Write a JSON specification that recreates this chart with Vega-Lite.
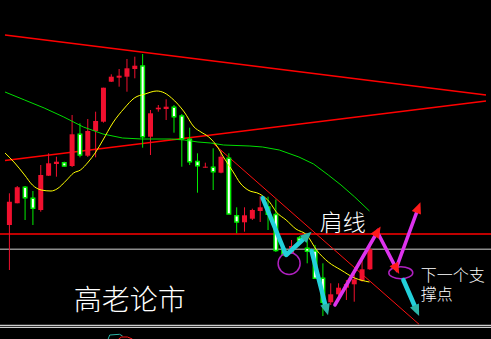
{
  "$schema": "https://vega.github.io/schema/vega-lite/v6.json",
  "width": 491,
  "height": 339,
  "autosize": {"type": "none"},
  "padding": 0,
  "background": "#000000",
  "config": {
    "view": {"stroke": null},
    "axis": {"disable": true},
    "legend": {"disable": true}
  },
  "datasets": {
    "candles": [
      {"t": 0, "o": 114, "c": 137.3, "h": 145.7, "l": 69},
      {"t": 1, "o": 135.7, "c": 151.7, "h": 153, "l": 135.7},
      {"t": 2, "o": 151.7, "c": 141.3, "h": 153, "l": 119},
      {"t": 3, "o": 140.7, "c": 130.7, "h": 148, "l": 114},
      {"t": 4, "o": 129, "c": 164, "h": 174, "l": 127.3},
      {"t": 5, "o": 163.3, "c": 175.7, "h": 185.7, "l": 163},
      {"t": 6, "o": 175, "c": 177.3, "h": 182.3, "l": 162.3},
      {"t": 7, "o": 176.3, "c": 173, "h": 177.3, "l": 172.3},
      {"t": 8, "o": 173, "c": 204.7, "h": 224, "l": 172},
      {"t": 9, "o": 204.7, "c": 184, "h": 215.7, "l": 181.7},
      {"t": 10, "o": 183.3, "c": 208, "h": 220, "l": 182},
      {"t": 11, "o": 208, "c": 218, "h": 227.3, "l": 181.7},
      {"t": 12, "o": 217.3, "c": 251.3, "h": 251.3, "l": 216.3},
      {"t": 13, "o": 257.3, "c": 262.3, "h": 264.7, "l": 257},
      {"t": 14, "o": 261.3, "c": 263.3, "h": 270, "l": 252.3},
      {"t": 15, "o": 262.3, "c": 270.7, "h": 280, "l": 247.3},
      {"t": 16, "o": 270, "c": 273.3, "h": 282.3, "l": 260.7},
      {"t": 17, "o": 273, "c": 202.3, "h": 285, "l": 191.3},
      {"t": 18, "o": 202.3, "c": 225.7, "h": 229, "l": 184},
      {"t": 19, "o": 229.7, "c": 231.3, "h": 234, "l": 227.3},
      {"t": 20, "o": 230, "c": 232.3, "h": 239.7, "l": 219},
      {"t": 21, "o": 231.7, "c": 222.3, "h": 234, "l": 206.3},
      {"t": 22, "o": 223, "c": 200.3, "h": 225, "l": 172.3},
      {"t": 23, "o": 199.7, "c": 177.3, "h": 211.3, "l": 174},
      {"t": 24, "o": 177.5, "c": 173.3, "h": 185.7, "l": 146.3},
      {"t": 25, "o": 171.3, "c": 172.3, "h": 176.3, "l": 171.3},
      {"t": 26, "o": 171.7, "c": 167.3, "h": 190.7, "l": 149},
      {"t": 27, "o": 166.3, "c": 182.3, "h": 189, "l": 165.7},
      {"t": 28, "o": 180.7, "c": 125, "h": 185.7, "l": 125},
      {"t": 29, "o": 123.3, "c": 117, "h": 131.7, "l": 105.7},
      {"t": 30, "o": 116.7, "c": 123.7, "h": 131.7, "l": 107.3},
      {"t": 31, "o": 120.3, "c": 129, "h": 130.3, "l": 119},
      {"t": 32, "o": 128, "c": 131.7, "h": 143, "l": 117},
      {"t": 33, "o": 132, "c": 124.7, "h": 142.3, "l": 109},
      {"t": 34, "o": 124.5, "c": 88.5, "h": 139.5, "l": 87},
      {"t": 35, "o": 89, "c": 84.5, "h": 93, "l": 83},
      {"t": 36, "o": 86, "c": 93, "h": 99, "l": 85},
      {"t": 37, "o": 101, "c": 98, "h": 103, "l": 95},
      {"t": 38, "o": 90.7, "c": 87.7, "h": 102.3, "l": 75.7},
      {"t": 39, "o": 88, "c": 60.7, "h": 94, "l": 60},
      {"t": 40, "o": 60.7, "c": 36.7, "h": 75.7, "l": 23},
      {"t": 41, "o": 36.7, "c": 44.7, "h": 55.7, "l": 34},
      {"t": 42, "o": 44.7, "c": 51.3, "h": 55.7, "l": 37.3},
      {"t": 43, "o": 51.3, "c": 55, "h": 59, "l": 39},
      {"t": 44, "o": 54.7, "c": 59.7, "h": 64.7, "l": 37.3},
      {"t": 45, "o": 58.3, "c": 69.7, "h": 82.3, "l": 57.3},
      {"t": 46, "o": 69.7, "c": 89.7, "h": 94, "l": 69}
    ],
    "maFast": [
      {"t": -0.56, "p": 186}, {"t": 0.69, "p": 176}, {"t": 1.94, "p": 164},
      {"t": 2.94, "p": 154}, {"t": 4.06, "p": 149}, {"t": 5.31, "p": 148},
      {"t": 6.06, "p": 150}, {"t": 7.31, "p": 159}, {"t": 8.19, "p": 166},
      {"t": 9.06, "p": 169}, {"t": 10.06, "p": 177}, {"t": 10.94, "p": 186},
      {"t": 11.94, "p": 199}, {"t": 13.19, "p": 216}, {"t": 14.69, "p": 231},
      {"t": 15.94, "p": 241}, {"t": 17.31, "p": 245}, {"t": 18.81, "p": 248},
      {"t": 19.81, "p": 246}, {"t": 20.69, "p": 241}, {"t": 22.31, "p": 227},
      {"t": 23.56, "p": 212}, {"t": 24.44, "p": 207}, {"t": 25.44, "p": 202},
      {"t": 26.56, "p": 192}, {"t": 27.31, "p": 182}, {"t": 28.56, "p": 167},
      {"t": 29.44, "p": 156}, {"t": 30.44, "p": 149}, {"t": 31.94, "p": 145},
      {"t": 33.19, "p": 137}, {"t": 34.06, "p": 127}, {"t": 35.31, "p": 119},
      {"t": 36.56, "p": 110}, {"t": 37.94, "p": 104}, {"t": 39.19, "p": 89},
      {"t": 40.69, "p": 77}, {"t": 42.31, "p": 69}, {"t": 44.06, "p": 61},
      {"t": 45.94, "p": 57}
    ],
    "maSlow": [
      {"t": -0.56, "p": 247}, {"t": 1.94, "p": 239}, {"t": 4.44, "p": 231},
      {"t": 6.94, "p": 222}, {"t": 9.44, "p": 212}, {"t": 11.94, "p": 205},
      {"t": 14.44, "p": 201}, {"t": 16.94, "p": 200}, {"t": 20.69, "p": 200},
      {"t": 22.31, "p": 199}, {"t": 24.06, "p": 197}, {"t": 25.69, "p": 196},
      {"t": 27.31, "p": 194}, {"t": 30.69, "p": 193}, {"t": 32.31, "p": 192},
      {"t": 34.44, "p": 189}, {"t": 36.94, "p": 182}, {"t": 38.81, "p": 175},
      {"t": 40.69, "p": 164}, {"t": 42.31, "p": 154}, {"t": 44.06, "p": 142},
      {"t": 45.94, "p": 128}
    ],
    "trendLines": [
      {"name": "upper", "t0": -0.5625, "p0": 304, "t1": 60.8125, "p1": 244},
      {"name": "lower", "t0": -0.5625, "p0": 178.5, "t1": 60.8125, "p1": 238},
      {"name": "channel", "t0": 25.94, "p0": 196, "t1": 52.27, "p1": 14.7}
    ],
    "levels": [
      {"name": "neckline", "p": 105},
      {"name": "support", "p": 89.7},
      {"name": "frame1", "p": 13.7},
      {"name": "frame2", "p": 11.7}
    ],
    "arrows": [
      {"id": "c1", "kind": "cyan", "k": 0, "t": 32.31, "p": 141},
      {"id": "c1", "kind": "cyan", "k": 1, "t": 35.31, "p": 84},
      {"id": "c1", "kind": "cyan", "k": 2, "t": 37.94, "p": 103},
      {"id": "c2", "kind": "cyan", "k": 0, "t": 38.56, "p": 88},
      {"id": "c2", "kind": "cyan", "k": 1, "t": 40.44, "p": 30},
      {"id": "c3", "kind": "cyan", "k": 0, "t": 50.27, "p": 59},
      {"id": "c3", "kind": "cyan", "k": 1, "t": 51.94, "p": 29},
      {"id": "m1", "kind": "magenta", "k": 0, "t": 41.53, "p": 34},
      {"id": "m1", "kind": "magenta", "k": 1, "t": 46.94, "p": 107},
      {"id": "m1", "kind": "magenta", "k": 2, "t": 49.35, "p": 70.7},
      {"id": "m1", "kind": "magenta", "k": 3, "t": 52.15, "p": 130.7}
    ],
    "heads": [
      {"kind": "cyan", "t": 37.94, "p": 103, "heading": 48},
      {"kind": "cyan", "t": 40.44, "p": 30, "heading": 165},
      {"kind": "cyan", "t": 51.94, "p": 29, "heading": 156},
      {"kind": "magenta", "t": 46.94, "p": 107, "heading": 31},
      {"kind": "magenta", "t": 49.35, "p": 70.7, "heading": 152},
      {"kind": "magenta", "t": 52.15, "p": 130.7, "heading": 21}
    ],
    "rings": [
      {"form": "circle", "t": 35.69, "p": 75.5},
      {"form": "oval", "t": 49.94, "p": 66.3}
    ],
    "labels": [
      {"text": "高老论市", "role": "title", "t": 8.2, "p": 37.5},
      {"text": "肩线", "role": "tag", "t": 39.6, "p": 115},
      {"text": ["下一个支", "撑点"], "role": "note", "t": 52.5, "p": 63}
    ],
    "subPanel": [
      {"s": "a", "t": 12.6, "p": 0}, {"s": "a", "t": 12.8, "p": 4},
      {"s": "a", "t": 14.06, "p": 4.7}, {"s": "a", "t": 14.44, "p": 3},
      {"s": "b", "t": 13.94, "p": 0}, {"s": "b", "t": 14.31, "p": 2},
      {"s": "b", "t": 15.06, "p": 2}, {"s": "b", "t": 15.69, "p": 0}
    ]
  },
  "layer": [
    {
      "data": {"name": "levels"},
      "transform": [{"filter": "datum.name === 'neckline'"}],
      "mark": {"type": "rule", "color": "#ff0000", "strokeWidth": 1.5},
      "encoding": {
        "y": {"field": "p", "type": "quantitative", "scale": {"domain": [0, 339], "nice": false, "zero": false}}
      }
    },
    {
      "data": {"name": "levels"},
      "transform": [{"filter": "datum.name === 'support'"}],
      "mark": {"type": "rule", "color": "#8c8c8c", "strokeWidth": 1.5},
      "encoding": {"y": {"field": "p", "type": "quantitative"}}
    },
    {
      "data": {"name": "levels"},
      "transform": [{"filter": "indexof(datum.name, 'frame') === 0"}],
      "mark": {"type": "rule", "color": "#ffffff", "strokeWidth": 1},
      "encoding": {"y": {"field": "p", "type": "quantitative"}}
    },
    {
      "data": {"name": "trendLines"},
      "transform": [{"filter": "datum.name !== 'channel'"}],
      "mark": {"type": "rule", "color": "#ff0000", "strokeWidth": 1.5},
      "encoding": {
        "x": {"field": "t0", "type": "quantitative", "scale": {"domain": [-0.5625, 60.8125], "nice": false, "zero": false}},
        "y": {"field": "p0", "type": "quantitative"},
        "x2": {"field": "t1"},
        "y2": {"field": "p1"}
      }
    },
    {
      "data": {"name": "trendLines"},
      "transform": [{"filter": "datum.name === 'channel'"}],
      "mark": {"type": "rule", "color": "#ff1010", "strokeWidth": 1},
      "encoding": {
        "x": {"field": "t0", "type": "quantitative"},
        "y": {"field": "p0", "type": "quantitative"},
        "x2": {"field": "t1"},
        "y2": {"field": "p1"}
      }
    },
    {
      "data": {"name": "subPanel"},
      "mark": {"type": "line", "strokeWidth": 1},
      "encoding": {
        "x": {"field": "t", "type": "quantitative"},
        "y": {"field": "p", "type": "quantitative"},
        "detail": {"field": "s"},
        "color": {"field": "s", "type": "nominal", "scale": {"domain": ["a", "b"], "range": ["#2cb5a8", "#ff1a1a"]}}
      }
    },
    {
      "data": {"name": "candles"},
      "transform": [{"filter": "datum.c >= datum.o"}],
      "mark": {"type": "rule", "color": "#f0102e", "strokeWidth": 1},
      "encoding": {
        "x": {"field": "t", "type": "quantitative"},
        "y": {"field": "l", "type": "quantitative"},
        "y2": {"field": "h"}
      }
    },
    {
      "data": {"name": "candles"},
      "transform": [{"filter": "datum.c < datum.o"}],
      "mark": {"type": "rule", "color": "#00ee00", "strokeWidth": 1},
      "encoding": {
        "x": {"field": "t", "type": "quantitative"},
        "y": {"field": "l", "type": "quantitative"},
        "y2": {"field": "h"}
      }
    },
    {
      "data": {"name": "candles"},
      "transform": [{"filter": "datum.c >= datum.o"}],
      "mark": {"type": "bar", "size": 5, "color": "#f0102e"},
      "encoding": {
        "x": {"field": "t", "type": "quantitative"},
        "y": {"field": "o", "type": "quantitative"},
        "y2": {"field": "c"}
      }
    },
    {
      "data": {"name": "candles"},
      "transform": [{"filter": "datum.c < datum.o"}],
      "mark": {"type": "bar", "size": 3.5, "fill": "#ffffff", "stroke": "#00ee00", "strokeWidth": 1.5},
      "encoding": {
        "x": {"field": "t", "type": "quantitative"},
        "y": {"field": "o", "type": "quantitative"},
        "y2": {"field": "c"}
      }
    },
    {
      "data": {"name": "maSlow"},
      "mark": {"type": "line", "color": "#00dd00", "strokeWidth": 1},
      "encoding": {
        "x": {"field": "t", "type": "quantitative"},
        "y": {"field": "p", "type": "quantitative"}
      }
    },
    {
      "data": {"name": "maFast"},
      "mark": {"type": "line", "color": "#ffff00", "strokeWidth": 1, "interpolate": "monotone"},
      "encoding": {
        "x": {"field": "t", "type": "quantitative"},
        "y": {"field": "p", "type": "quantitative"}
      }
    },
    {
      "data": {"name": "rings"},
      "transform": [{"filter": "datum.form === 'circle'"}],
      "mark": {"type": "point", "shape": "circle", "size": 484, "filled": false, "stroke": "#b020c0", "strokeWidth": 1.5, "opacity": 1},
      "encoding": {
        "x": {"field": "t", "type": "quantitative"},
        "y": {"field": "p", "type": "quantitative"}
      }
    },
    {
      "data": {"name": "rings"},
      "transform": [{"filter": "datum.form === 'oval'"}],
      "mark": {"type": "point", "shape": "M-1,0A1,0.5,0,1,0,1,0A1,0.5,0,1,0,-1,0Z", "size": 576, "filled": false, "stroke": "#b020c0", "strokeWidth": 1.5, "opacity": 1},
      "encoding": {
        "x": {"field": "t", "type": "quantitative"},
        "y": {"field": "p", "type": "quantitative"}
      }
    },
    {
      "data": {"name": "arrows"},
      "transform": [{"filter": "datum.kind === 'cyan'"}],
      "mark": {"type": "line", "color": "#22d0da", "strokeWidth": 4.5, "strokeCap": "round", "strokeJoin": "round"},
      "encoding": {
        "x": {"field": "t", "type": "quantitative"},
        "y": {"field": "p", "type": "quantitative"},
        "detail": {"field": "id"},
        "order": {"field": "k"}
      }
    },
    {
      "data": {"name": "arrows"},
      "transform": [{"filter": "datum.kind === 'magenta'"}],
      "mark": {"type": "line", "color": "#dd33ee", "strokeWidth": 3.5, "strokeCap": "round", "strokeJoin": "miter"},
      "encoding": {
        "x": {"field": "t", "type": "quantitative"},
        "y": {"field": "p", "type": "quantitative"},
        "detail": {"field": "id"},
        "order": {"field": "k"}
      }
    },
    {
      "data": {"name": "heads"},
      "mark": {"type": "point", "shape": "M0,-1L0.75,0.75L-0.75,0.75Z", "size": 170, "filled": true, "opacity": 1, "strokeWidth": 0},
      "encoding": {
        "x": {"field": "t", "type": "quantitative"},
        "y": {"field": "p", "type": "quantitative"},
        "angle": {"field": "heading", "type": "quantitative", "scale": null},
        "color": {"field": "kind", "type": "nominal", "scale": {"domain": ["cyan", "magenta"], "range": ["#22d0da", "#dd33ee"]}}
      }
    },
    {
      "data": {"name": "labels"},
      "transform": [{"filter": "datum.role === 'title'"}],
      "mark": {"type": "text", "font": "Noto Sans CJK SC", "fontWeight": 300, "fontSize": 28, "align": "left", "baseline": "middle", "color": "#ffffff"},
      "encoding": {
        "x": {"field": "t", "type": "quantitative"},
        "y": {"field": "p", "type": "quantitative"},
        "text": {"field": "text", "type": "nominal"}
      }
    },
    {
      "data": {"name": "labels"},
      "transform": [{"filter": "datum.role === 'tag'"}],
      "mark": {"type": "text", "font": "Noto Sans CJK SC", "fontWeight": 300, "fontSize": 23, "align": "left", "baseline": "middle", "color": "#ffffff"},
      "encoding": {
        "x": {"field": "t", "type": "quantitative"},
        "y": {"field": "p", "type": "quantitative"},
        "text": {"field": "text", "type": "nominal"}
      }
    },
    {
      "data": {"name": "labels"},
      "transform": [{"filter": "datum.role === 'note'"}],
      "mark": {"type": "text", "font": "Noto Sans CJK SC", "fontWeight": 300, "fontSize": 16, "lineHeight": 19, "align": "left", "baseline": "middle", "color": "#ffffff"},
      "encoding": {
        "x": {"field": "t", "type": "quantitative"},
        "y": {"field": "p", "type": "quantitative"},
        "text": {"field": "text", "type": "nominal"}
      }
    }
  ]
}
